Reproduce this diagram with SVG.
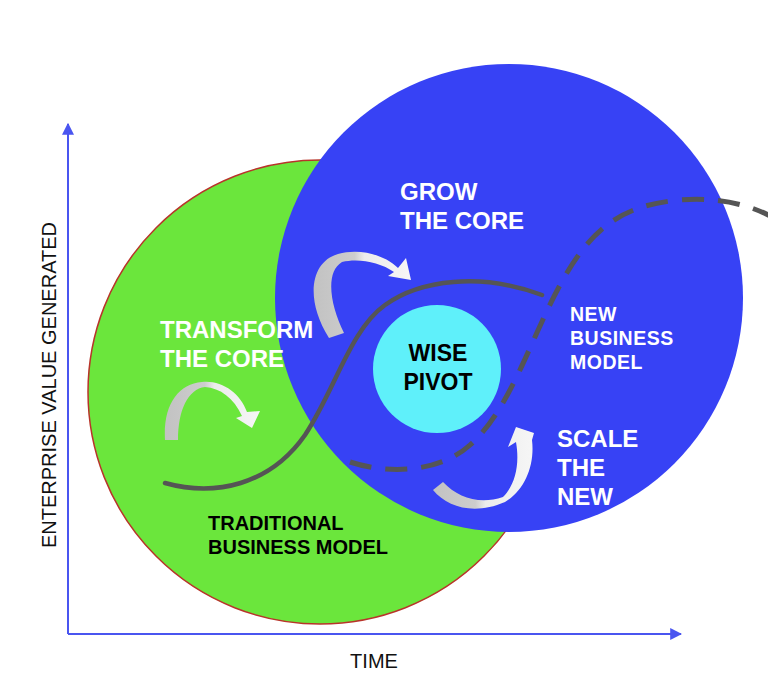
<svg xmlns="http://www.w3.org/2000/svg" width="768" height="700" viewBox="0 0 768 700">
<style>
.lbl{font-family:"Liberation Sans",Arial,sans-serif;font-weight:bold}
.w{fill:#ffffff}
.k{fill:#000000}
.ax{stroke:#4a55f0;stroke-width:2;fill:none}
.axt{font-family:"Liberation Sans",Arial,sans-serif;font-size:20px;fill:#111111}
.curve{fill:none;stroke:#555555;stroke-width:4.5;stroke-linecap:round}
.dash{fill:none;stroke:#555555;stroke-width:5;stroke-dasharray:22 14}
</style>
<defs>
<linearGradient id="rib" x1="0" y1="0" x2="1" y2="0">
<stop offset="0" stop-color="#c2c2c2"/>
<stop offset="0.42" stop-color="#cdcdcd"/>
<stop offset="0.52" stop-color="#ececec"/>
<stop offset="1" stop-color="#f6f6f6"/>
</linearGradient>
<marker id="ah" viewBox="0 0 10 10" refX="9" refY="5" markerWidth="6" markerHeight="6" orient="auto" markerUnits="strokeWidth">
<path d="M0,0 L10,5 L0,10 Z" fill="#4a55f0"/>
</marker>
</defs>
<rect width="768" height="700" fill="#ffffff"/>

<g id="traditional-circle">
<circle cx="320" cy="392" r="232" fill="#6be63c" stroke="#b8342a" stroke-width="1.5"/>
</g>
<g id="new-circle">
<circle cx="509" cy="298" r="234" fill="#3742f5"/>
</g>

<g id="axes">
<line class="ax" x1="68" y1="634" x2="68" y2="124" marker-end="url(#ah)"/>
<line class="ax" x1="68" y1="634" x2="681" y2="634" marker-end="url(#ah)"/>
<text class="axt" x="374" y="668" text-anchor="middle">TIME</text>
<text class="axt" transform="translate(56,385) rotate(-90)" text-anchor="middle">ENTERPRISE VALUE GENERATED</text>
</g>

<g id="connectors">
<path class="curve" d="M165,483 C215,497 270,485 305,435 C335,390 350,330 385,305 C420,280 480,272 542,295"/>
<path class="dash" d="M350,462 C390,475 440,472 470,445 C510,410 530,340 560,285 C590,230 620,205 680,200 C720,197 750,205 772,217"/>
</g>

<g id="wise-pivot">
<circle cx="437" cy="369" r="64" fill="#5ff0fa"/>
<text class="lbl k" x="438" y="361" font-size="23" text-anchor="middle">WISE</text>
<text class="lbl k" x="438" y="390" font-size="23" text-anchor="middle">PIVOT</text>
</g>

<g id="arrow-transform">
<path fill="url(#rib)" d="M165,440 C163,405 178,384 202,382 C222,380 240,393 247,412 L260,411 L252,428 L236,418 L242,416 C234,398 220,388 205,387 C188,389 178,410 178,440 Z"/>
</g>
<g id="arrow-grow">
<path fill="url(#rib)" d="M329,338 C305,300 310,262 338,254 C360,248 385,255 398,268 L406,258 L411,280 L388,276 L394,272 C380,262 358,258 342,262 C325,272 330,305 344,333 Z"/>
</g>
<g id="arrow-scale">
<path fill="url(#rib)" d="M433,490 C448,508 475,515 505,502 C525,490 535,465 532,440 L534,433 L516,427 L508,447 L516,442 C520,465 515,485 503,497 C480,505 458,498 443,482 Z"/>
</g>

<g id="label-transform">
<text class="lbl w" x="160" y="338" font-size="24">TRANSFORM</text>
<text class="lbl w" x="160" y="367" font-size="24">THE CORE</text>
</g>
<g id="label-grow">
<text class="lbl w" x="400" y="200" font-size="24">GROW</text>
<text class="lbl w" x="400" y="229" font-size="24">THE CORE</text>
</g>
<g id="label-new-model">
<text class="lbl w" x="570" y="321" font-size="19.5" letter-spacing="0.5">NEW</text>
<text class="lbl w" x="570" y="345" font-size="19.5" letter-spacing="0.5">BUSINESS</text>
<text class="lbl w" x="570" y="369" font-size="19.5" letter-spacing="0.5">MODEL</text>
</g>
<g id="label-scale">
<text class="lbl w" x="557" y="447" font-size="24">SCALE</text>
<text class="lbl w" x="557" y="476" font-size="24">THE</text>
<text class="lbl w" x="557" y="505" font-size="24">NEW</text>
</g>
<g id="label-traditional">
<text class="lbl k" x="208" y="530" font-size="20">TRADITIONAL</text>
<text class="lbl k" x="208" y="554" font-size="20">BUSINESS MODEL</text>
</g>
</svg>
